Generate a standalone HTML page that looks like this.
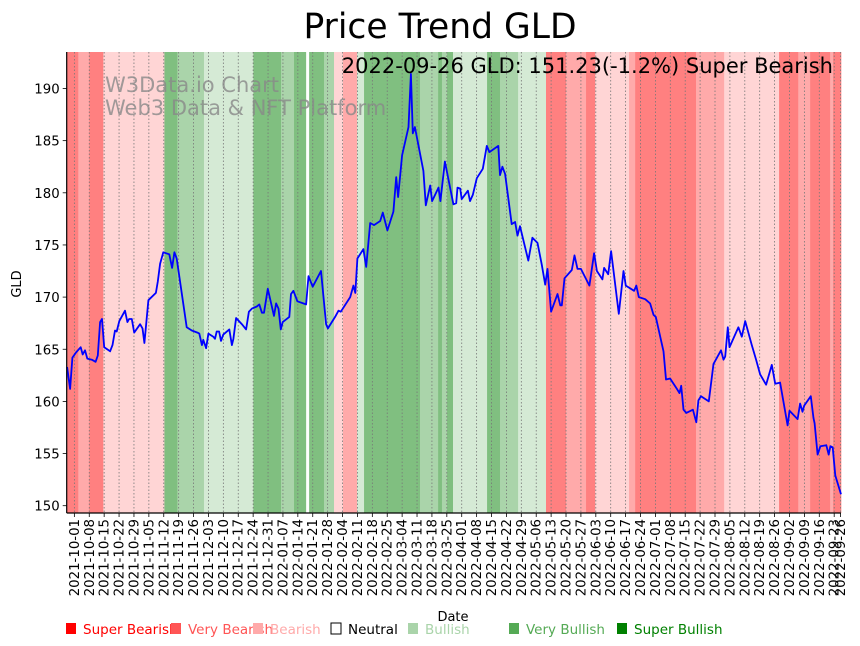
<!DOCTYPE html>
<html><head><meta charset="utf-8">
<style>
html,body{margin:0;padding:0;background:#fff;}
svg{display:block;font-family:"DejaVu Sans","Liberation Sans",sans-serif;}
</style></head>
<body>
<svg id="chart" width="860" height="646" viewBox="0 0 860 646" xmlns="http://www.w3.org/2000/svg">
<g id="bands"></g>
<g id="grid"></g>
<g id="line"></g>
<g id="axes"></g>
<text x="440" y="38" font-size="34.5" text-anchor="middle" fill="#000">Price Trend GLD</text>
<text x="105" y="92" font-size="21" fill="#888" fill-opacity="0.8">W3Data.io Chart</text>
<text x="105" y="115" font-size="21" fill="#888" fill-opacity="0.8">Web3 Data &amp; NFT Platform</text>
<text x="833" y="73" font-size="21" text-anchor="end" fill="#000">2022-09-26 GLD: 151.23(-1.2%) Super Bearish</text>
<text transform="translate(21,284) rotate(-90)" font-size="13" text-anchor="middle">GLD</text>
<text x="453" y="621" font-size="13" text-anchor="middle">Date</text>
<g id="legend"></g>
</svg>
<script>
// Data (days since 2021-10-01, values)
const priceDays = [-3.4,-2.0,-0.9,0.8,3.0,3.9,5.0,6.1,8.2,10.0,11.0,12.1,13.0,14.0,16.8,17.9,19.1,19.9,21.1,23.8,24.9,25.7,27.0,28.1,30.9,32.0,32.9,34.8,38.3,39.2,40.3,41.8,44.6,45.9,47.0,48.1,52.8,55.2,57.8,58.7,59.9,60.6,61.9,63.0,65.3,66.1,66.9,68.0,68.9,70.0,72.8,74.0,74.7,76.0,78.7,80.7,82.0,83.4,85.7,86.9,88.1,89.1,90.9,93.8,94.8,95.9,97.0,97.9,101.0,101.8,102.9,104.8,108.9,110.0,112.0,115.9,118.3,119.1,122.5,124.1,125.2,129.6,131.1,132.0,133.0,135.8,137.1,139.0,140.8,143.7,144.9,147.1,149.9,151.2,152.1,154.0,157.0,158.1,159.0,160.0,164.0,165.1,167.2,168.1,171.1,172.0,174.1,178.1,179.4,180.0,181.3,182.0,184.9,185.9,187.2,189.1,191.9,193.8,195.0,199.2,200.0,201.1,202.4,205.5,207.1,208.2,209.4,213.3,215.2,217.6,219.6,221.2,222.3,224.0,227.0,228.3,229.0,230.3,233.7,235.0,236.4,238.0,242.0,244.2,245.5,248.1,248.9,250.8,252.2,255.8,258.0,259.1,263.0,264.0,265.2,268.2,270.5,272.1,273.2,276.8,278.0,279.9,283.1,284.3,285.1,286.2,287.5,290.6,292.2,293.2,294.4,298.1,300.3,303.8,305.0,305.8,307.0,307.8,312.0,313.6,315.2,318.3,320.3,322.2,325.0,327.7,329.3,331.6,335.1,336.0,339.8,341.0,342.1,342.9,346.0,347.3,347.8,349.2,350.5,353.3,354.4,355.2,356.3,357.5,360.2];
const priceValues = [163.3,161.2,164.2,164.7,165.2,164.5,164.9,164.1,164.0,163.8,164.4,167.6,167.9,165.2,164.8,165.4,166.8,166.7,167.7,168.7,167.6,167.9,167.9,166.6,167.4,167.0,165.6,169.7,170.4,171.5,173.2,174.3,174.1,172.8,174.3,173.7,167.1,166.8,166.6,166.5,165.4,165.9,165.1,166.5,166.2,166.0,166.7,166.7,165.8,166.4,166.9,165.4,166.0,168.0,167.4,166.9,168.6,168.9,169.1,169.3,168.5,168.5,170.8,168.2,169.4,168.9,166.9,167.6,168.1,170.3,170.6,169.6,169.3,172.0,171.0,172.5,167.4,167.0,168.1,168.7,168.6,170.0,171.1,170.4,173.7,174.6,172.9,177.1,176.9,177.3,178.1,176.4,178.2,181.5,179.6,183.6,186.3,191.4,185.7,186.3,182.1,178.8,180.7,179.2,180.5,179.2,183.0,178.9,179.0,180.5,180.4,179.4,180.2,179.2,179.8,181.4,182.3,184.5,183.9,184.5,181.7,182.5,181.8,177.0,177.2,175.9,176.8,173.5,175.7,175.2,173.1,171.2,172.7,168.6,170.3,169.2,169.2,171.8,172.6,174.0,172.7,172.7,171.1,174.2,172.5,171.7,172.8,172.2,174.4,168.4,172.5,171.1,170.6,171.1,170.0,169.8,169.4,168.3,168.1,164.8,162.1,162.2,161.2,160.8,161.5,159.2,158.9,159.2,158.0,160.1,160.5,160.0,163.6,164.9,164.0,164.3,167.1,165.2,167.1,166.2,167.7,165.4,164.0,162.6,161.6,163.5,161.7,161.8,157.7,159.1,158.3,159.8,159.0,159.6,160.5,158.4,157.9,154.9,155.7,155.8,154.9,155.7,155.6,152.9,151.1];
const bandStarts = [-3.6,1.85,7.0,13.6,42.3,48.4,60.9,84.1,97.1,103.2,108.9,110.3,117.3,122.0,126.2,132.8,136.1,162.4,170.9,172.7,175.1,177.9,193.9,200.0,208.5,221.6,231.0,240.4,244.7,260.6,263.5,292.1,305.3,331.1,340.1,345.7,355.1,356.5];
const bandLevels = [0,1,0,2,6,5,4,6,5,6,3,6,5,2,1,4,6,5,6,5,6,4,6,5,4,0,1,0,2,1,0,1,2,0,1,0,1,0];
const yTicks = [150,155,160,165,170,175,180,185,190];
const tickLabels = ["2021-10-01","2021-10-08","2021-10-15","2021-10-22","2021-10-29","2021-11-05","2021-11-12","2021-11-19","2021-11-26","2021-12-03","2021-12-10","2021-12-17","2021-12-24","2021-12-31","2022-01-07","2022-01-14","2022-01-21","2022-01-28","2022-02-04","2022-02-11","2022-02-18","2022-02-25","2022-03-04","2022-03-11","2022-03-18","2022-03-25","2022-04-01","2022-04-08","2022-04-15","2022-04-22","2022-04-29","2022-05-06","2022-05-13","2022-05-20","2022-05-27","2022-06-03","2022-06-10","2022-06-17","2022-06-24","2022-07-01","2022-07-08","2022-07-15","2022-07-22","2022-07-29","2022-08-05","2022-08-12","2022-08-19","2022-08-26","2022-09-02","2022-09-09","2022-09-16","2022-09-23","2022-09-26"];
const tickDays = [0,7,14,21,28,35,42,49,56,63,70,77,84,91,98,105,112,119,126,133,140,147,154,161,168,175,182,189,196,203,210,217,224,231,238,245,252,259,266,273,280,287,294,301,308,315,322,329,336,343,350,357,360];
const legendNames = ["Super Bearish","Very Bearish","Bearish","Neutral","Bullish","Very Bullish","Super Bullish"];

const NS = "http://www.w3.org/2000/svg";
const X0=66.7, X1=841, Y0=52, Y1=513;
const D0=-3.6, D1=360.2, V0=149.3, V1=193.5;
const xs = d => X0 + (d-D0)/(D1-D0)*(X1-X0);
const ys = v => Y1 - (v-V0)/(V1-V0)*(Y1-Y0);
const bandFill = ["#ff8080","#ffaaaa","#ffd5d5","#ffffff","#d5ead5","#aad4aa","#80bf80"];
const legendFill = ["#ff0000","#ff5555","#ffaaaa","#ffffff","#aad4aa","#55aa55","#008000"];
const legendX = [66,171,253,331,408,509,617];
function mk(tag, attrs, parent){const e=document.createElementNS(NS,tag);for(const k in attrs)e.setAttribute(k,attrs[k]);parent.appendChild(e);return e;}

const gB=document.getElementById('bands');
for(let i=0;i<bandStarts.length;i++){
  const a=xs(bandStarts[i]); const b= i+1<bandStarts.length? xs(bandStarts[i+1]) : X1;
  const r=mk('rect',{x:a,y:Y0,width:Math.max(0,b-a)+0.3,height:Y1-Y0,fill:bandFill[bandLevels[i]]},gB);
  
  
}
const gG=document.getElementById('grid');
const gA=document.getElementById('axes');
for(let i=0;i<tickDays.length;i++){
  const x=xs(tickDays[i]);
  const gl=mk('line',{x1:x,x2:x,y1:Y0,y2:Y1,stroke:'#777','stroke-width':0.8,'stroke-dasharray':'1.5,2'},gG);
  
  
  const t=mk('line',{x1:x,x2:x,y1:Y1,y2:Y1+4,stroke:'#000','stroke-width':0.8},gA);
  
  
  const lb=mk('text',{transform:`translate(${x+4.5},${Y1+6}) rotate(-90)`,'font-size':13.3,'text-anchor':'end'},gA);
  lb.textContent=tickLabels[i];
  
  
}
for(const v of yTicks){
  const y=ys(v);
  const t=mk('line',{x1:X0-4,x2:X0,y1:y,y2:y,stroke:'#000','stroke-width':0.8},gA);
  
  
  const lb=mk('text',{x:X0-7,y:y+5,'font-size':13.3,'text-anchor':'end'},gA);
  lb.textContent=String(v);
  
  
}
const sp1=mk('line',{x1:X0,x2:X0,y1:Y0,y2:Y1,stroke:'#000','stroke-width':1.2},gA);


const sp2=mk('line',{x1:X0,x2:X1,y1:Y1,y2:Y1,stroke:'#000','stroke-width':1.2},gA);



const pts=priceDays.map((d,i)=>xs(d).toFixed(1)+','+ys(priceValues[i]).toFixed(1)).join(' ');
const pl=mk('polyline',{points:pts,fill:'none',stroke:'#0000ff','stroke-width':1.8,'stroke-linejoin':'round'},document.getElementById('line'));



const gL=document.getElementById('legend');
for(let i=0;i<legendNames.length;i++){
  const sq=mk('rect',{x:legendX[i],y:623,width:10,height:11,fill:legendFill[i],stroke:i===3?'#000':'none','stroke-width':1},gL);
  
  
  const t=mk('text',{x:legendX[i]+17,y:634,'font-size':13.5,fill:i===3?'#000':legendFill[i]},gL);
  t.textContent=legendNames[i];
  
  
}
</script>
</body></html>
